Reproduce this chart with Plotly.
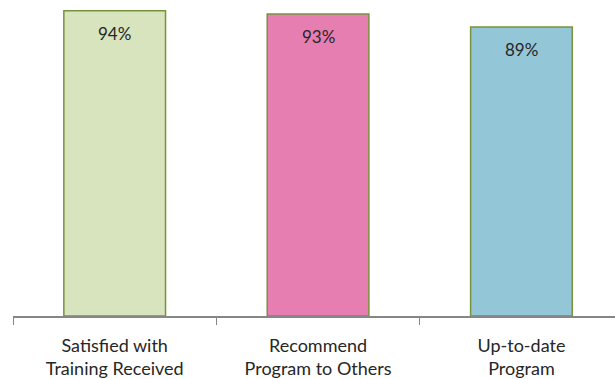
import plotly.graph_objects as go

categories = ["Satisfied with<br>Training Received", "Recommend<br>Program to Others", "Up-to-date<br>Program"]
values = [94, 93, 89]
labels = ["94%", "93%", "89%"]
colors = ["#D7E4BD", "#E67EB1", "#93C6D6"]

fig = go.Figure()
fig.add_trace(go.Bar(
    x=categories, y=values, width=0.5,
    marker=dict(color=colors, line=dict(color="#77933C", width=1.5)),
    hoverinfo="skip",
))
for c, v, t in zip(categories, values, labels):
    fig.add_annotation(x=c, y=v, text=t, showarrow=False, yanchor="middle",
                       yshift=-23, font=dict(family="Lato", size=17, color="#262626"))

fig.update_layout(
    width=615, height=379,
    margin=dict(l=13, r=0, t=0, b=60),
    paper_bgcolor="white", plot_bgcolor="white",
    showlegend=False,
    font=dict(family="Lato", size=18, color="#262626"),
    xaxis=dict(range=[-0.5, 2.46], showline=True, linecolor="#868686", linewidth=2,
               ticks="outside", tickson="boundaries", ticklen=7, tickcolor="#868686",
               tickwidth=1, showgrid=False, zeroline=False, fixedrange=True,
               ticklabelstandoff=12),
    yaxis=dict(range=[0, 97.3], visible=False, showgrid=False, zeroline=False),
)
fig.write_html("out.html")
